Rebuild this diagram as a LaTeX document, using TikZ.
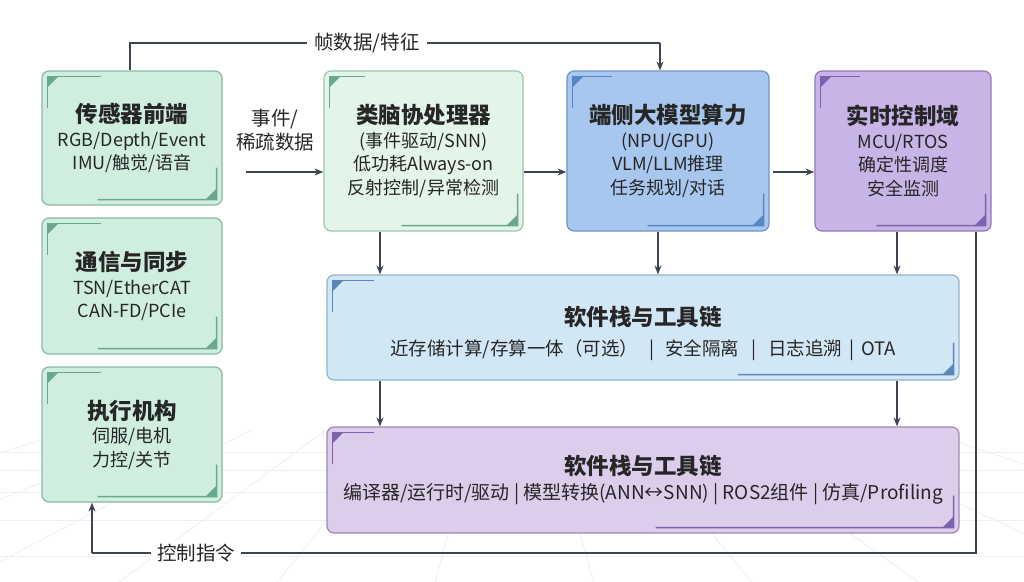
\documentclass[tikz,border=0pt]{standalone}
\usepackage{fontspec}
\setmainfont{Noto Sans CJK SC}
\usetikzlibrary{arrows.meta,calc}
\definecolor{gfill}{HTML}{CFEEE0}
\definecolor{gbord}{HTML}{88B9A2}
\definecolor{gdeco}{HTML}{6AA88E}
\definecolor{nfill}{HTML}{E3F4EA}
\definecolor{nbord}{HTML}{9CC6AE}
\definecolor{bfill}{HTML}{A7C7EE}
\definecolor{bbord}{HTML}{7095C8}
\definecolor{bdeco}{HTML}{5687C4}
\definecolor{pfill}{HTML}{C8B4E6}
\definecolor{pbord}{HTML}{9079B8}
\definecolor{pdeco}{HTML}{7D62B0}
\definecolor{sbfill}{HTML}{D2E7F6}
\definecolor{sbbord}{HTML}{93B3CB}
\definecolor{sbdeco}{HTML}{5A86B8}
\definecolor{spfill}{HTML}{DCCDEB}
\definecolor{spbord}{HTML}{9D88BA}
\definecolor{lcol}{HTML}{3D4452}
\definecolor{gridc}{HTML}{EDEFF2}
% #1 node, #2 colour, #3 top line length, #4 fraction where bottom line starts
\newcommand\boxdeco[4]{%
  \path (#1.north west) coordinate (tl) (#1.south east) coordinate (br);
  \fill[#2] ($(tl)+(6,6)$) -- ++(11,0) -- ++(-11,11) -- cycle;
  \draw[#2, line width=1.3pt] ($(tl)+(6,38)$) -- ($(tl)+(6,6)$) -- ($(tl)+(6+#3,6)$);
  \fill[#2] ($(br)+(-6,-6)$) -- ++(-11,0) -- ++(11,-11) -- cycle;
  \draw[#2, line width=1.3pt] ($(br)+(-6,-38)$) -- ($(br)+(-6,-6)$) -- ($(#1.south west)!#4!(#1.south east)+(0,-6)$);
}
\begin{document}
\begin{tikzpicture}[x=1pt,y=-1pt,
  box/.style={draw, rounded corners=7pt, line width=1.2pt, align=center,
    inner sep=0pt, font=\fontsize{18}{23.5}\selectfont, text=black!85},
  gbox/.style={box, fill=gfill, draw=gbord},
  nbox/.style={box, fill=nfill, draw=nbord},
  bbox/.style={box, fill=bfill, draw=bbord},
  pbox/.style={box, fill=pfill, draw=pbord},
  sbbox/.style={box, fill=sbfill, draw=sbbord},
  spbox/.style={box, fill=spfill, draw=spbord},
  arr/.style={draw=lcol, line width=1.3pt, -{Stealth[length=9pt,width=7pt]}},
  ln/.style={draw=lcol, line width=1.3pt},
  lbl/.style={font=\fontsize{19.5}{24}\selectfont, text=black!85, fill=white, inner sep=3pt, align=center}
]
\useasboundingbox (0,0) rectangle (1024,581);
\fill[white] (0,0) rectangle (1024,581);
% faint floor grid
\begin{scope}
  \clip (0,430) rectangle (1024,581);
  \foreach \yy in {452,470,492,520,556} \draw[gridc, line width=0.8pt] (0,\yy) -- (1024,\yy);
  \foreach \xx in {-900,-600,-350,-150,40,230,420,610,800,1000,1250,1550,1900}
    \draw[gridc, line width=0.8pt] (512+0.25*\xx-128,380) -- (\xx,640);
\end{scope}
\newcommand\ttl[1]{{\bfseries\fontsize{22.5}{27}\selectfont #1}}
\newcommand\sep[1]{\hspace{#1}|\hspace{#1}}

\node[gbox, minimum width=180pt, minimum height=134pt] (sensor) at (132,138)
  {\ttl{传感器前端}\\RGB/Depth/Event\\IMU/触觉/语音};
\node[gbox, minimum width=180pt, minimum height=136pt] (comm) at (132,286)
  {\ttl{通信与同步}\\TSN/EtherCAT\\CAN-FD/PCIe};
\node[gbox, minimum width=180pt, minimum height=135pt] (act) at (132,434.5)
  {\ttl{执行机构}\\伺服/电机\\力控/关节};
\node[nbox, minimum width=199pt, minimum height=160pt] (neuro) at (423.5,151)
  {\ttl{类脑协处理器}\\(事件驱动/SNN)\\低功耗Always-on\\反射控制/异常检测};
\node[bbox, minimum width=202pt, minimum height=160pt] (llm) at (668,151)
  {\ttl{端侧大模型算力}\\(NPU/GPU)\\VLM/LLM推理\\任务规划/对话};
\node[pbox, minimum width=176pt, minimum height=160pt] (rt) at (903,151)
  {\ttl{实时控制域}\\MCU/RTOS\\确定性调度\\安全监测};
\node[sbbox, minimum width=632pt, minimum height=105pt] (sw1) at (643,327.5)
  {\rule{0pt}{31pt}\ttl{软件栈与工具链}\\[6pt]{\fontsize{18.5}{23}\selectfont 近存储计算/存算一体（可选）\sep{11pt}安全隔离\sep{12pt}日志追溯\sep{7pt}OTA}};
\node[spbox, minimum width=632pt, minimum height=106pt] (sw2) at (643,480)
  {\ttl{软件栈与工具链}\\[2pt]{\fontsize{19}{23}\selectfont 编译器/运行时/驱动 | 模型转换(ANN↔SNN) | ROS2组件 | 仿真/Profiling}};

\boxdeco{sensor}{gdeco}{54}{0.31}
\boxdeco{comm}{gdeco}{54}{0.31}
\boxdeco{act}{gdeco}{54}{0.31}
\boxdeco{neuro}{gdeco}{36}{0.39}
\boxdeco{llm}{bdeco}{40}{0.40}
\boxdeco{rt}{pdeco}{40}{0.35}
\boxdeco{sw1}{sbdeco}{42}{0.65}
\boxdeco{sw2}{pdeco}{42}{0.52}

% top connector
\draw[ln] (sensor.north -| 130,0) -- (130,43) coordinate (t1) -- (660,43) coordinate (t2);
\draw[arr] (t2) -- (llm.north -| t2);
\node[lbl, inner xsep=7pt] (toplbl) at (367,43) {帧数据/特征};

% horizontal arrows
\node[lbl, fill=none] (evlbl) at (275,130) {事件/\\稀疏数据};
\draw[arr] ($(sensor.east)+(23,34)$) coordinate (a0) -- (neuro.west |- a0);
\draw[arr] ($(neuro.east)+(0,21)$) coordinate (a1) -- (llm.west |- a1);
\draw[arr] ($(llm.east)+(3,21)$) coordinate (a2) -- (rt.west |- a2);

% down arrows
\draw[arr] (neuro.south -| 380,0) -- (sw1.north -| 380,0);
\draw[arr] (llm.south -| 658,0) -- (sw1.north -| 658,0);
\draw[arr] (rt.south -| 897,0) -- (sw1.north -| 897,0);
\draw[arr] (sw1.south -| 380,0) -- (sw2.north -| 380,0);
\draw[arr] (sw1.south -| 897,0) -- (sw2.north -| 897,0);

% feedback
\draw[ln] (rt.south -| 976,0) -- (976,553) coordinate (f1) -- (92,553) coordinate (f2);
\draw[arr] (f2) -- (act.south -| f2);
\node[lbl, inner xsep=6pt] (fblbl) at (196,553) {控制指令};
\end{tikzpicture}
\end{document}
